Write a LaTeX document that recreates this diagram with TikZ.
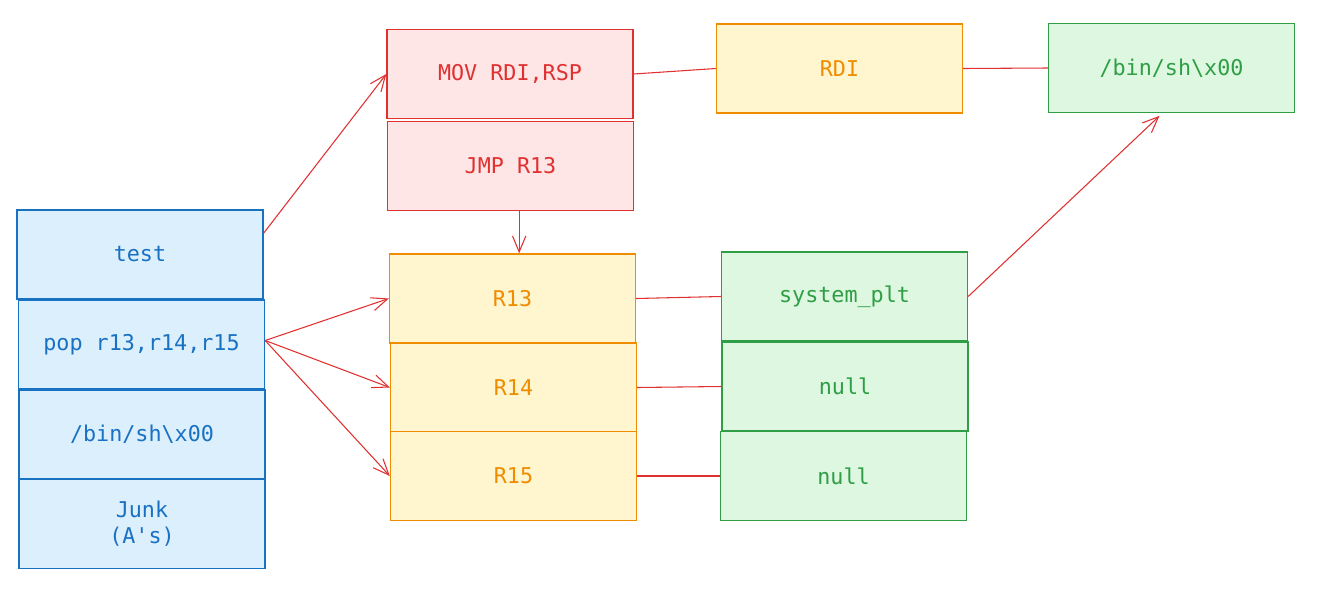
\documentclass[tikz,border=0pt]{standalone}
\usepackage{fontspec}
\setmonofont{DejaVu Sans Mono}
\usetikzlibrary{arrows.meta}
\definecolor{bstroke}{HTML}{1971C2}
\definecolor{bfill}{HTML}{DCEFFD}
\definecolor{rstroke}{HTML}{E03131}
\definecolor{rfill}{HTML}{FFE6E6}
\definecolor{ostroke}{HTML}{F08C00}
\definecolor{ofill}{HTML}{FFF6CF}
\definecolor{gstroke}{HTML}{2F9E44}
\definecolor{gfill}{HTML}{DDF7E1}
\definecolor{arr}{HTML}{E03131}
\tikzset{
  box/.style={rectangle, minimum width=184.5pt, minimum height=66.75pt, inner sep=0pt,
    line width=1pt, align=center, font=\ttfamily\fontsize{16.3}{19.5}\selectfont},
  bluebox/.style={box, draw=bstroke, fill=bfill, text=bstroke},
  redbox/.style={box, draw=rstroke, fill=rfill, text=rstroke},
  orabox/.style={box, draw=ostroke, fill=ofill, text=ostroke},
  grnbox/.style={box, draw=gstroke, fill=gfill, text=gstroke},
  link/.style={draw=arr, line width=0.8pt},
  arrow/.style={link, -{Straight Barb[length=12pt,width=10pt,line width=0.8pt]}}
}
\begin{document}
\begin{tikzpicture}[x=0.75pt,y=-0.75pt]
\useasboundingbox (0,0) rectangle (1319,593);
\node[bluebox] (test) at (140,254.5) {test};
\node[bluebox] (pop) at (141.5,344.5) {pop r13,r14,r15};
\node[bluebox] (binsh) at (142,434.5) {/bin/sh\textbackslash x00};
\node[bluebox] (junk) at (142,524) {Junk\\(A's)};
\node[redbox] (mov) at (510,74) {MOV RDI,RSP};
\node[redbox] (jmp) at (510.5,166) {JMP R13};
\node[orabox] (r13) at (512.5,298.5) {R13};
\node[orabox] (r14) at (513.5,387.5) {R14};
\node[orabox] (r15) at (513.5,476) {R15};
\node[orabox] (rdi) at (839.5,68.5) {RDI};
\node[grnbox] (gbin) at (1171.5,68) {/bin/sh\textbackslash x00};
\node[grnbox] (sys) at (844.5,296.5) {system\_plt};
\node[grnbox] (null1) at (845,386.5) {null};
\node[grnbox] (null2) at (843.5,476) {null};
\draw[arrow] ([yshift=16pt]test.east) -- (mov.west);
\draw[arrow] ([yshift=3pt]pop.east) -- (r13.west);
\draw[arrow] ([yshift=3pt]pop.east) -- (r14.west);
\draw[arrow] ([yshift=3pt]pop.east) -- (r15.west);
\draw[arrow] ([xshift=6.5pt]jmp.south) -- ([xshift=5pt]r13.north);
\draw[link] (mov.east) -- (rdi.west);
\draw[link] (rdi.east) -- (gbin.west);
\draw[link] (r13.east) -- (sys.west);
\draw[link] (r14.east) -- (null1.west);
\draw[link] (r15.east) -- (null2.west);
\draw[arrow] (sys.east) -- ([xshift=-9pt,yshift=-2pt]gbin.south);
\end{tikzpicture}
\end{document}
